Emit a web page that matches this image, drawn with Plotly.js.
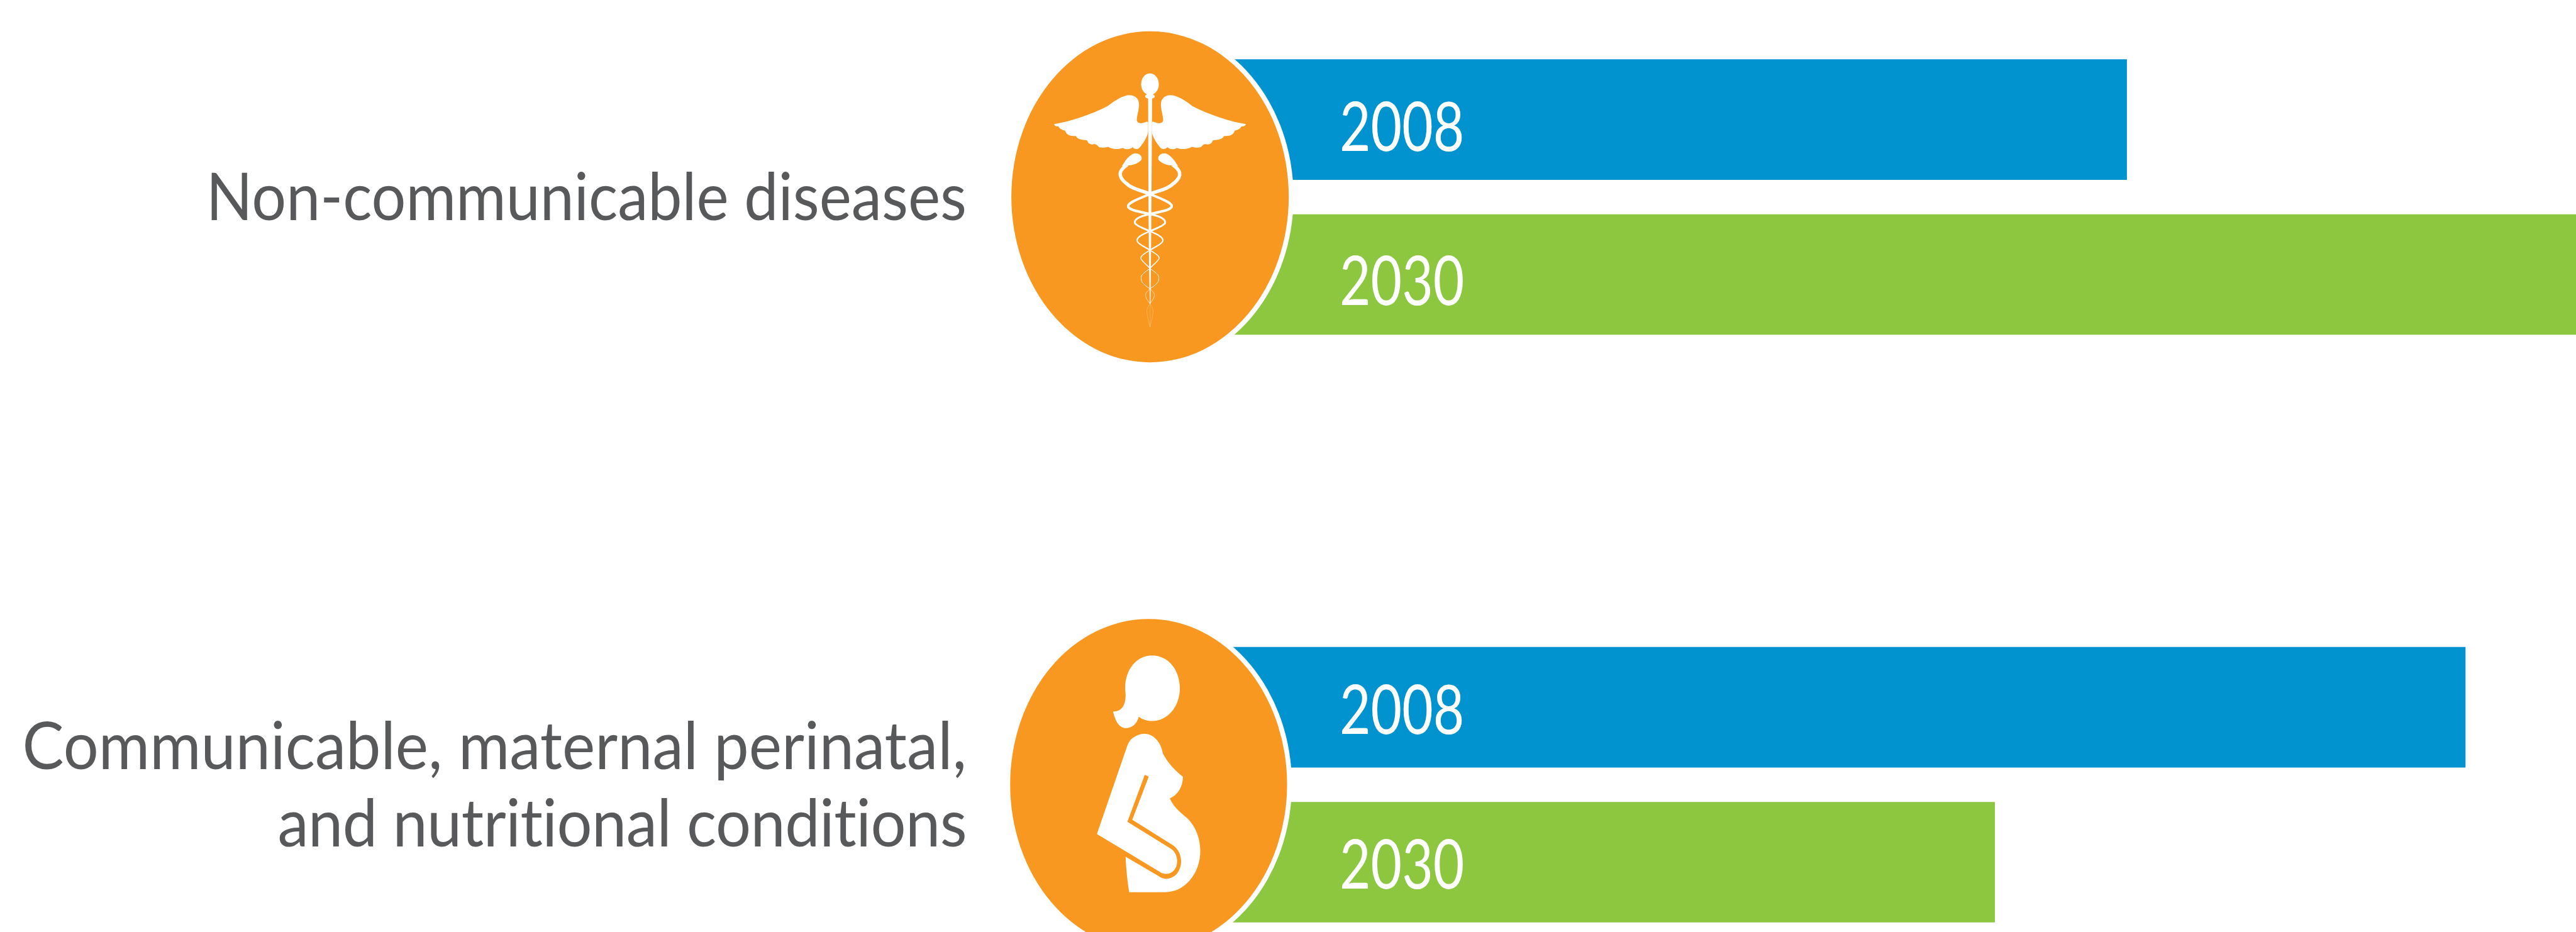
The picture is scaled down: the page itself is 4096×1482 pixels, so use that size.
<!DOCTYPE html>
<html>
<head>
<meta charset="utf-8">
<script src="https://cdn.plot.ly/plotly-3.0.1.min.js"></script>
<style>html,body{margin:0;padding:0;background:#fff;overflow:hidden}#chart{width:4096px;height:1482px}
#chart text{font-variant-ligatures:none}</style>
</head>
<body>
<div id="chart"></div>
<script>
// Data (no axis in the picture: estimated, as % of the longest bar)
const categories = ['Non-communicable diseases', 'Communicable, maternal perinatal,<br>and nutritional conditions'];
const years = ['2008', '2030'];
const values2008 = [68.2, 91.8];
const values2030 = [100, 59.0];

// Colours
const BLUE = '#0093d0', GREEN = '#8dc63f', ORANGE = '#f99820', GREY = '#58595b';
const FONT = 'Lato,"Open Sans",sans-serif';

// Page geometry (k = output px per reference px)
const W = 4096, H = 1482, k = W / 5385;
const left = 2400 * k;
const px = x => (x * k - left) / (W - left);
const py = y => 1 - y * k / H;

function pathFrom(str, ox, oy, sx, sy, mirror) {
  const toks = str.match(/[A-Za-z]|-?[\d.]+/g);
  let out = '', isX = true;
  toks.forEach(t => {
    if (/[A-Za-z]/.test(t)) { out += t + ' '; isX = true; return; }
    let v = +t;
    if (isX) { if (mirror != null) v = mirror - v; out += px(ox + v * sx).toFixed(5) + ','; }
    else { out += py(oy + v * sy).toFixed(5) + ' '; }
    isX = !isX;
  });
  return out.trim();
}
const ell = (cx, cy, rx, ry, color) => ({type:'circle', xref:'paper', yref:'paper', layer:'above',
  x0:px(cx-rx), x1:px(cx+rx), y0:py(cy+ry), y1:py(cy-ry), fillcolor:color, line:{width:0}});
const solid = (d, ox, oy, sx, sy, m) => ({type:'path', xref:'paper', yref:'paper', layer:'above',
  path:pathFrom(d, ox, oy, sx, sy, m), fillcolor:'#fff', line:{width:0}});
const stroke = (d, w, c, ox, oy, sx, sy, m) => ({type:'path', xref:'paper', yref:'paper', layer:'above',
  path:pathFrom(d, ox, oy, sx, sy, m), line:{color:c, width:w}});

// Caduceus icon outline
const cx0 = 2050, cy0 = 0, csx = 1/1.568, csy = 1/1.96, MID = 1108;
const wing = 'M240 508 C290 500 360 470 415 435 C445 405 470 390 488 390 C510 392 520 410 518 435 C516 460 510 480 511 495 C515 510 530 505 545 498 L548 503 L548 540 C545 565 530 590 520 605 C515 613 503 613 497 603 C490 612 475 615 466 606 C450 613 430 613 417 602 C405 606 395 606 387 603 C378 590 375 590 365 592 C355 590 350 585 348 575 C330 572 318 572 311 557 C295 557 280 555 276 535 C265 532 258 528 254 518 C245 518 240 514 240 508 Z';
const snakeHead = 'M462 682 C470 660 490 630 505 628 C520 628 530 640 526 655 C515 670 495 680 478 677 Z';
const staff = 'M548 400 L561 400 L559 800 L557 1100 L555.5 1245 L553.5 1245 L551 1100 L549 800 Z';
const staffTail = 'M554.5 1245 L554.5 1340';
const snakeParts = [
  ['M480 675 C455 695 445 720 475 750 C495 775 525 780 554 795', 5.5, '#ffffff'],
  ['M554 795 C590 815 630 830 625 848 C615 865 590 865 554 878', 4, '#ffffff'],
  ['M554 878 C520 885 500 900 505 915 C515 930 535 935 554 948', 3, '#ffffff'],
  ['M554 948 C580 960 600 975 596 988 C590 1005 570 1010 554 1025', 2.2, '#ffffff'],
  ['M554 1025 C535 1040 520 1050 525 1062 C535 1080 545 1085 554 1100', 1.5, '#ffffff'],
  ['M554 1100 C570 1115 585 1125 583 1140 C583 1160 570 1170 554 1183', 1, '#ffffff'],
  ['M554 1183 C545 1195 538 1200 540 1215 C543 1228 550 1235 554 1245', 0.8, 'rgba(255,255,255,0.85)'],
  ['M554 1245 C560 1255 565 1265 564 1280 C562 1300 558 1320 554 1340', 0.6, 'rgba(255,255,255,0.4)']
];
// Pregnant woman icon outline
const wx0 = 2050, wy0 = 1250, wsx = 1/1.568, wsy = 1/2.243;
const woHead = 'M433 533 C465 533 475 495 474 450 C465 350 505 270 561 270 C615 270 652 340 652 423 C652 510 612 577 561 577 C545 577 530 570 517 557 C512 590 495 610 475 610 C452 610 440 575 433 533 Z';
const woBody = 'M493 662 C505 648 520 637 535 637 C565 637 590 675 596 728 C612 772 635 808 662 838 C662 885 645 925 619 940 C630 975 648 1000 670 1025 C700 1060 719 1120 719 1187 C719 1290 670 1380 603 1380 L486 1380 C480 1330 476 1270 474 1213 L583 1305 C590 1313 598 1317 607 1317 C635 1317 656 1282 656 1235 C656 1205 647 1178 630 1160 L496 1040 L550 838 L537 829 L480 1050 L625 1178 C636 1190 643 1210 643 1235 C643 1270 628 1294 607 1294 C600 1294 595 1292 590 1288 L380 1107 L478 700 C482 685 486 670 493 662 Z';

const shapes = [
  ell(2403.5, 411.5, 300, 356, '#ffffff'), ell(2403.5, 411.5, 290, 346, ORANGE),
  ell(2400.5, 1640, 299.5, 356, '#ffffff'), ell(2400.5, 1640, 289.5, 346, ORANGE),
  solid(wing, cx0, cy0, csx, csy), solid(wing, cx0, cy0, csx, csy, MID),
  solid(snakeHead, cx0, cy0, csx, csy), solid(snakeHead, cx0, cy0, csx, csy, MID),
  solid(staff, cx0, cy0, csx, csy),
  stroke(staffTail, 0.6, 'rgba(255,255,255,0.4)', cx0, cy0, csx, csy),
  ell(cx0 + 554*csx, 345*csy, 29*csx, 44*csy, '#ffffff'),
  ell(cx0 + 554*csx, 395*csy, 16*csx, 10*csy, '#ffffff'),
  solid(woHead, wx0, wy0, wsx, wsy), solid(woBody, wx0, wy0, wsx, wsy)
];
snakeParts.forEach(p => {
  shapes.push(stroke(p[0], p[1], p[2], cx0, cy0, csx, csy));
  shapes.push(stroke(p[0], p[1], p[2], cx0, cy0, csx, csy, MID));
});

// Scales
const catStep = 1229, catTop = 412;
const xEnd = 99.5;
const slot = 162 / catStep;
const labelX = (2799 - 2400) / (2985 / xEnd);
const yearLabel = (text, cat, sign, dy) => ({
  text, x: labelX, y: cat + sign * slot + dy / catStep, xref:'x', yref:'y',
  xanchor:'left', yanchor:'middle', showarrow:false, align:'left',
  font:{family:FONT, size:108, color:'#fff'}, borderpad:0
});

const traces = [
  {type:'bar', orientation:'h', name:years[0], y:categories, x:values2008, marker:{color:BLUE, line:{width:0}}, hoverinfo:'skip'},
  {type:'bar', orientation:'h', name:years[1], y:categories, x:values2030, marker:{color:GREEN, line:{width:0}}, hoverinfo:'skip'}
];
const layout = {
  width:W, height:H, margin:{l:left, r:0, t:0, b:0, pad:0},
  paper_bgcolor:'#fff', plot_bgcolor:'#fff', showlegend:false,
  barmode:'group', bargap:1 - 648/catStep, bargroupgap:1 - 252/324,
  xaxis:{range:[0, xEnd], visible:false, showgrid:false, zeroline:false, fixedrange:true},
  yaxis:{type:'category', categoryorder:'array', categoryarray:categories,
    range:[(1949 - catTop)/catStep, -catTop/catStep],
    showgrid:false, zeroline:false, showline:false, ticks:'', ticklabelstandoff:288, automargin:false,
    tickfont:{family:FONT, size:104, color:GREY}, fixedrange:true},
  shapes,
  annotations:[
    yearLabel(years[0], 0, -1, 10), yearLabel(years[1], 0, 1, 8),
    yearLabel(years[0], 1, -1, 1), yearLabel(years[1], 1, 1, 0)
  ]
};

// The reference's typeface is narrower than any installed one: squeeze real text horizontally.
function squeeze(el, f, side) {
  const b = el.getBBox();
  const ax = side === 'right' ? b.x + b.width : b.x;
  const old = el.getAttribute('transform') || '';
  el.setAttribute('transform', `${old} translate(${ax},0) scale(${f},1) translate(${-ax},0)`);
}
Plotly.newPlot('chart', traces, layout, {displayModeBar:false, staticPlot:true}).then(gd => {
  gd.querySelectorAll('.ytick text').forEach(t => {
    const lines = t.querySelectorAll('tspan.line');
    if (lines.length === 2) {
      // reference line pitch is 170 px, tighter than the 1.3em of the library
      lines[0].setAttribute('dy', 6);
      lines[1].setAttribute('dy', 170 * k);
      const f = (1974 * k) / lines[0].getComputedTextLength();
      const len2 = lines[1].getComputedTextLength();
      const chars = lines[1].textContent.length;
      lines[1].style.letterSpacing = (((1445 * k) / f - len2) / chars) + 'px';
      squeeze(t, f, 'right');
    } else {
      squeeze(t, (1590 * k) / t.getBBox().width, 'right');
    }
  });
  gd.querySelectorAll('.annotation-text-g text').forEach(t => {
    squeeze(t, (261 * k) / t.getBBox().width, 'left');
  });
});
</script>
</body>
</html>
